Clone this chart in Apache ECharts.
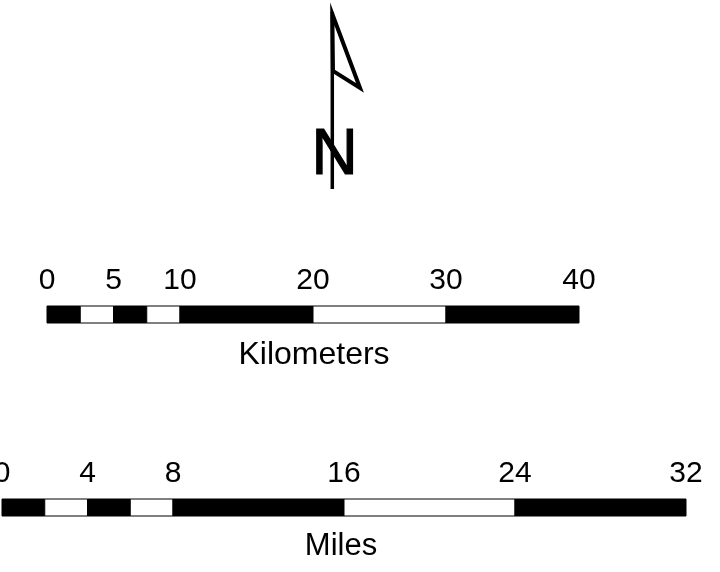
<!DOCTYPE html>
<html>
<head>
<meta charset="utf-8">
<script src="https://cdn.jsdelivr.net/npm/echarts@6/dist/echarts.min.js"></script>
<style>html,body{margin:0;padding:0;background:#fff}#c{width:720px;height:572px}</style>
</head>
<body>
<div id="c"></div>
<script>
// Kilometers scale bar
const kmTicks = [0, 5, 10, 20, 30, 40];
const kmStarts = [0, 2.5, 5, 7.5, 10, 20, 30];
const kmEnds = [2.5, 5, 7.5, 10, 20, 30, 40];
const kmFill = [0, 1, 0, 1, 0, 1, 0]; // 0 = black, 1 = white
// Miles scale bar
const miTicks = [0, 4, 8, 16, 24, 32];
const miStarts = [0, 2, 4, 6, 8, 16, 24];
const miEnds = [2, 4, 6, 8, 16, 24, 32];
const miFill = [0, 1, 0, 1, 0, 1, 0];
const unitTitles = ['Kilometers', 'Miles'];
const northLabel = 'N';

const FONT = '"Liberation Sans", Arial, Helvetica, sans-serif';
const chart = echarts.init(document.getElementById('c'), null, {renderer: 'canvas'});

function renderSeg(params, api) {
  const p0 = api.coord([api.value(0), 1]);
  const p1 = api.coord([api.value(1), 0]);
  return {
    type: 'rect',
    shape: {x: p0[0], y: p0[1], width: p1[0] - p0[0], height: p1[1] - p0[1]},
    style: {fill: api.value(2) === 0 ? '#000' : '#fff', stroke: '#000', lineWidth: 1}
  };
}
function toData(starts, ends, fills) {
  return starts.map((s, i) => [s, ends[i], fills[i]]);
}
function axisX(idx, max, ticks, margin) {
  return {gridIndex: idx, type: 'value', min: 0, max: max, position: 'top',
    axisLine: {show: false}, axisTick: {show: false}, splitLine: {show: false},
    axisLabel: {customValues: ticks, margin: margin, color: '#000', fontSize: 30,
                fontFamily: FONT}};
}

const option = {
  animation: false,
  backgroundColor: '#fff',
  grid: [
    {left: 47, width: 532, top: 306, height: 17, outerBoundsMode: 'none', containLabel: false},
    {left: 2, width: 684, top: 499, height: 17, outerBoundsMode: 'none', containLabel: false}
  ],
  xAxis: [axisX(0, 40, kmTicks, 10), axisX(1, 32, miTicks, 10)],
  yAxis: [
    {gridIndex: 0, type: 'value', min: 0, max: 1, show: false},
    {gridIndex: 1, type: 'value', min: 0, max: 1, show: false}
  ],
  series: [
    {type: 'custom', xAxisIndex: 0, yAxisIndex: 0, renderItem: renderSeg,
     data: toData(kmStarts, kmEnds, kmFill)},
    {type: 'custom', xAxisIndex: 1, yAxisIndex: 1, renderItem: renderSeg,
     data: toData(miStarts, miEnds, miFill)}
  ],
  graphic: [
    {type: 'text', style: {text: unitTitles[0], x: 314, y: 355,
      align: 'center', verticalAlign: 'middle', fontSize: 32,
      fontFamily: FONT, fill: '#000'}},
    {type: 'text', style: {text: unitTitles[1], x: 341, y: 546,
      align: 'center', verticalAlign: 'middle', fontSize: 31,
      fontFamily: FONT, fill: '#000'}},
    // north arrow
    {type: 'text', style: {text: northLabel, x: 334.5, y: 156,
      align: 'center', verticalAlign: 'middle', fontSize: 64,
      fontFamily: FONT, fill: '#000', stroke: '#000', lineWidth: 1.2}},
    {type: 'line', shape: {x1: 332.3, y1: 12, x2: 332.3, y2: 189},
     style: {stroke: '#000', lineWidth: 3.5}},
    {type: 'polygon', shape: {points: [[332.3, 14], [360, 88], [333, 71]]},
     style: {fill: 'none', stroke: '#000', lineWidth: 4, lineJoin: 'miter'}}
  ]
};
chart.setOption(option);
</script>
</body>
</html>
